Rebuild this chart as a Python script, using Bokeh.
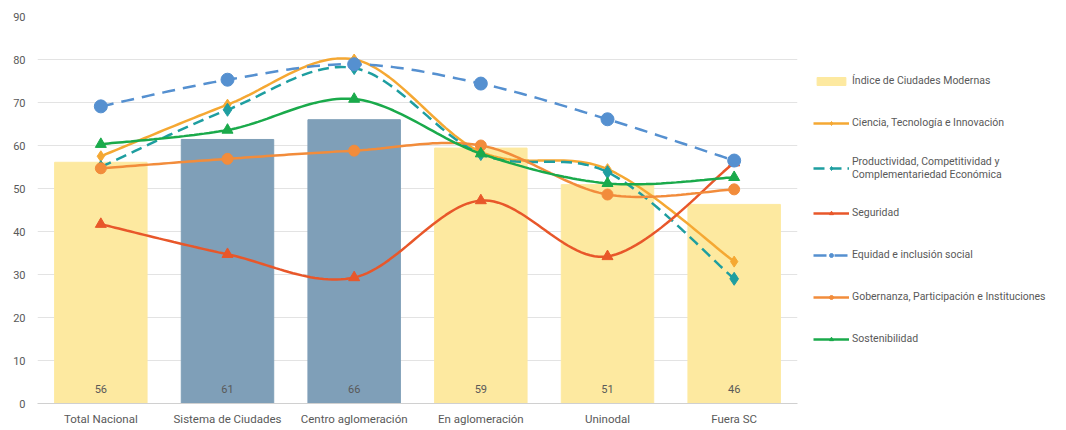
import numpy as np
from bokeh.plotting import figure
from bokeh.models import (Range1d, FixedTicker, Legend, LegendItem, ColumnDataSource)
from bokeh.core.properties import value
from bokeh.embed import file_html
from bokeh.resources import INLINE

categories = ["Total Nacional", "Sistema de Ciudades", "Centro aglomeración",
              "En aglomeración", "Uninodal", "Fuera SC"]
icm = [56.1, 61.4, 66.0, 59.4, 50.9, 46.3]
bar_colors = ["#FDE9A0", "#7F9FB8", "#7F9FB8", "#FDE9A0", "#FDE9A0", "#FDE9A0"]

ciencia = [57.5, 69.5, 80.0, 58.5, 54.5, 33.0]
productividad = [55.0, 68.3, 78.0, 58.0, 53.8, 29.0]
seguridad = [41.7, 34.7, 29.3, 47.2, 34.2, 56.0]
equidad = [69.1, 75.3, 78.9, 74.4, 66.1, 56.5]
gobernanza = [54.7, 56.9, 58.8, 60.0, 48.6, 49.8]
sostenibilidad = [60.3, 63.6, 70.8, 58.1, 51.2, 52.6]

series = [
    ("Ciencia, Tecnología e Innovación", ciencia, "#F5A833", "diamond", "solid", 11),
    ("Productividad, Competitividad y\nComplementariedad Económica", productividad, "#1E9EA0", "diamond", "11 6", 13),
    ("Seguridad", seguridad, "#E8572A", "triangle", "solid", 11),
    ("Equidad e inclusión social", equidad, "#5590D0", "circle", "13 8", 13),
    ("Gobernanza, Participación e Instituciones", gobernanza, "#F28C3B", "circle", "solid", 11),
    ("Sostenibilidad", sostenibilidad, "#1AAA4B", "triangle", "solid", 11),
]

FONT = "Roboto"
GREY = "#595959"

xs = np.arange(len(categories)) + 0.5

p = figure(frame_width=760, frame_height=387, output_backend="svg", toolbar_location=None,
           x_range=Range1d(0, len(categories)), y_range=Range1d(0, 90),
           min_border_left=37, min_border_top=16, min_border_right=0,
           min_border_bottom=0)
p.outline_line_color = None
p.background_fill_color = "white"

# bars
src = ColumnDataSource(dict(x=xs, top=icm, color=bar_colors,
                            label=[f"{v:.0f}" for v in icm]))
bars = p.vbar(x="x", top="top", width=0.73, color="color", source=src)
p.text(x="x", y=3.3, text="label", source=src, text_align="center",
       text_baseline="middle", text_font=value(FONT), text_font_size="11px",
       text_color=GREY)


def smooth(xv, yv, n=30):
    P = np.column_stack([xv, yv]).astype(float)
    out = []
    m = len(P)
    for i in range(m - 1):
        p0 = P[i - 1] if i > 0 else P[i]
        p1 = P[i]
        p2 = P[i + 1]
        p3 = P[i + 2] if i + 2 < m else P[i + 1]
        c1 = p1 + (p2 - p0) / 6.0
        c2 = p2 - (p3 - p1) / 6.0
        t = np.linspace(0, 1, n)[:, None]
        seg = ((1 - t) ** 3) * p1 + 3 * ((1 - t) ** 2) * t * c1 + 3 * (1 - t) * t ** 2 * c2 + t ** 3 * p2
        if i > 0:
            seg = seg[1:]
        out.append(seg)
    pts = np.vstack(out)
    return pts[:, 0], pts[:, 1]


items = [LegendItem(label="Índice de Ciudades Modernas", renderers=[bars], index=0)]
for name, vals, col, mk, dash, sz in series:
    sx, sy = smooth(xs, vals)
    ln = p.line(sx, sy, line_color=col, line_width=2.5, line_dash=dash)
    sc = p.scatter(xs, vals, marker=mk, size=sz, fill_color=col, line_color=col)
    items.append(LegendItem(label=name, renderers=[ln, sc]))

legend = Legend(items=items, location="left", padding=0, margin=16,
                spacing=22, glyph_width=36, glyph_height=10, label_standoff=3,
                label_text_font=FONT, label_text_font_size="10.5px",
                label_text_color=GREY, label_height=20,
                background_fill_alpha=0, border_line_color=None)
p.add_layout(legend, "right")

# axes
p.xaxis.ticker = FixedTicker(ticks=list(xs))
p.xaxis.major_label_overrides = {float(x): c for x, c in zip(xs, categories)}
p.xaxis.major_tick_line_color = None
p.xaxis.minor_tick_line_color = None
p.xaxis.axis_line_color = "#D0D0D0"
p.xaxis.major_label_text_font = FONT
p.xaxis.major_label_text_font_size = "11.5px"
p.xaxis.major_label_text_color = GREY
p.xaxis.major_label_standoff = 2

p.yaxis.ticker = FixedTicker(ticks=list(range(0, 91, 10)))
p.yaxis.axis_line_color = None
p.yaxis.major_tick_line_color = None
p.yaxis.minor_tick_line_color = None
p.yaxis.major_label_text_font = FONT
p.yaxis.major_label_text_font_size = "11px"
p.yaxis.major_label_text_color = GREY
p.yaxis.major_label_standoff = 6

p.xgrid.grid_line_color = None
p.ygrid.grid_line_color = "#E3E3E3"
p.ygrid.grid_line_width = 1
p.ygrid.ticker = FixedTicker(ticks=list(range(0, 91, 10)))

open("out.html", "w").write(file_html(p, INLINE))
